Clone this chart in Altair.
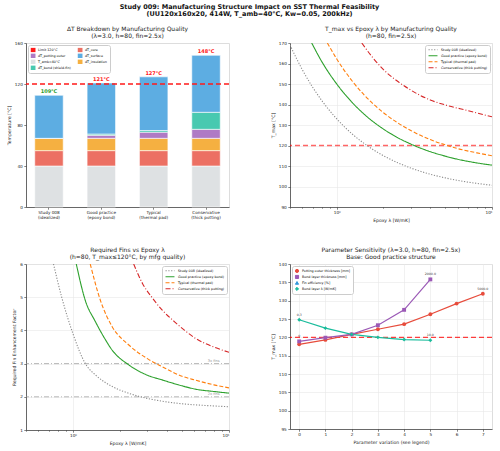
import altair as alt
import pandas as pd

FONT = "DejaVu Sans"

# ---------------- Panel 1: stacked dT breakdown ----------------
categories = ["Study 008|(idealized)", "Good practice|(epoxy bond)",
              "Typical|(thermal pad)", "Conservative|(thick potting)"]
components = ["T_amb=40°C", "dT_core", "dT_insulation", "dT_potting outer",
              "dT_bond (shield-fin)", "dT_surface"]
t_amb = [40, 40, 40, 40]
dt_core = [15, 15, 15, 15]
dt_insulation = [12, 12, 12, 12]
dt_potting = [0, 3, 6, 8.8]
dt_bond = [0, 1.2, 1.6, 16.6]
dt_surface = [42, 49.8, 52.4, 55.6]
comp_colors = ["#dee1e3", "#ec7063", "#f5b041", "#af7ac5", "#48c9b0", "#5dade2"]
limit_value = 120
limit_label = "Limit 120°C"
total_colors = ["#2a9d2a", "#ff1a1a", "#ff1a1a", "#ff1a1a"]

# ---------------- Panel 2: T_max vs lambda ----------------
series_names = ["Study 008 (idealized)", "Good practice (epoxy bond)",
                "Typical (thermal pad)", "Conservative (thick potting)"]
series_colors = ["#8c8c8c", "#2ca02c", "#ff7f0e", "#d62728"]
series_dash = [[1.2, 1.6], [1, 0], [4, 2], [5, 2, 1, 2]]

lam_s008 = [0.5, 0.6, 0.7, 0.8, 1.0, 1.25, 1.5, 2, 2.5, 3, 4, 5, 6, 8, 10]
tmax_s008 = [169, 157, 148.4, 142, 133, 125.8, 121, 115, 111.4, 109, 106, 104.2, 103, 101.5, 100.6]
lam_good = [0.69, 0.8, 1, 1.25, 1.5, 2, 2.5, 3, 4, 5, 6, 8, 10]
tmax_good = [170, 161, 150, 141.2, 135.3, 128, 123.6, 120.7, 117, 114.8, 113.3, 111.5, 110.4]
lam_typ = [0.87, 1, 1.25, 1.5, 2, 2.5, 3, 4, 5, 6, 8, 10]
tmax_typ = [170, 162.2, 151.7, 144.7, 136, 130.8, 127.3, 122.9, 120.3, 118.5, 116.4, 115.0]
lam_cons = [1.45, 1.7, 2, 2.5, 3, 4, 5, 7, 10]
tmax_cons = [170, 163, 157, 151, 147, 142.2, 139.8, 137, 134]

# ---------------- Panel 3: required fins vs lambda ----------------
flam_s008 = [0.75, 0.85, 1.0, 1.2, 1.4, 1.8, 2.3, 3.0, 3.7, 5, 7, 10]
fin_s008 = [6, 4.97, 3.9, 3.0, 2.65, 2.3, 2.1, 1.95, 1.87, 1.79, 1.74, 1.70]
flam_good = [1.05, 1.2, 1.39, 1.6, 1.78, 2.28, 3.0, 3.72, 5, 6.1, 8, 10]
fin_good = [6, 4.9, 4.27, 3.75, 3.41, 2.96, 2.65, 2.51, 2.33, 2.23, 2.16, 2.11]
flam_typ = [1.29, 1.5, 1.78, 2.28, 3, 3.72, 5, 6.1, 8, 10]
fin_typ = [6, 4.9, 4.12, 3.56, 3.15, 2.91, 2.62, 2.5, 2.36, 2.27]
flam_cons = [2.45, 2.8, 3.2, 3.72, 4.5, 5.2, 6.1, 8, 10]
fin_cons = [6, 5.4, 5.0, 4.62, 4.25, 4.0, 3.76, 3.5, 3.34]
fin_refs = [2, 3]
fin_ref_labels = ["2x fins", "3x fins"]
fin_ref_label_x = [7.3, 7.3]

# ---------------- Panel 4: sensitivity ----------------
sens_names = ["Potting outer thickness [mm]", "Bond layer thickness [mm]",
              "Fin efficiency [%]", "Bond layer λ [W/mK]"]
sens_colors = ["#e74c3c", "#9b59b6", "#3498db", "#1abc9c"]
sens_shapes = ["circle", "square", "triangle-up", "diamond"]
sens_potting = [118.1, 119.3, 120.8, 122.2, 123.6, 126.3, 129.2, 131.9]
sens_bond_t = [118.9, 119.9, 120.8, 123.3, 127.5, 135.8]
sens_bond_k = [124.8, 122.5, 120.8, 120.0, 119.4, 119.2]
annot_series = ["Bond layer thickness [mm]", "Bond layer thickness [mm]",
                "Potting outer thickness [mm]", "Bond layer λ [W/mK]", "Bond layer λ [W/mK]"]
annot_idx = [0, 5, 7, 0, 5]
annot_text = ["0", "2000.0", "5000.0", "0.3", "10.0"]

# ---------------- styling helpers ----------------
AX = dict(labelFont=FONT, titleFont=FONT, labelFontSize=4.2, titleFontSize=4.6,
          titleFontWeight="normal", labelColor="#222", titleColor="#222",
          domainColor="#333", domainWidth=0.7, tickColor="#333", tickSize=2.2,
          tickWidth=0.6, labelPadding=1.5, titlePadding=3, gridColor="#e8e8e8", gridWidth=0.6)
LEG = dict(labelFont=FONT, labelFontSize=3.3, title=None, fillColor="white",
           strokeColor="#cccccc", cornerRadius=2, padding=2.5, offset=2,
           rowPadding=1.0, labelOffset=2.5, labelLimit=200, clipHeight=4.5)


def sub_title(lines):
    return alt.TitleParams(lines, font=FONT, fontSize=6.0, fontWeight="normal",
                           color="#222222", offset=2, lineHeight=6.8)


# ---------------- Panel 1 chart ----------------
rows = []
vals = [t_amb, dt_core, dt_insulation, dt_potting, dt_bond, dt_surface]
for ci, cat in enumerate(categories):
    for k, comp in enumerate(components):
        rows.append({"cat": cat, "comp": comp, "val": vals[k][ci], "ord": k})
df_bars = pd.DataFrame(rows)
totals = df_bars.groupby("cat", sort=False)["val"].sum().reindex(categories)
df_tot = pd.DataFrame({"cat": categories, "val": totals.values,
                       "label": [f"{round(v):d}°C" for v in totals.values],
                       "col": total_colors})

leg_domain = [limit_label, "dT_potting outer", "T_amb=40°C", "dT_bond (shield-fin)",
              "dT_core", "dT_surface", "dT_insulation"]
cmap = dict(zip(components, comp_colors))
cmap[limit_label] = "#ff1a1a"
leg_range = [cmap[d] for d in leg_domain]

xcat = alt.X("cat:N", sort=categories,
             scale=alt.Scale(paddingInner=0.456, paddingOuter=0.167),
             axis=alt.Axis(title=None, labelAngle=0, labelExpr="split(datum.label, '|')",
                           labelLineHeight=4.6, labelBaseline="top", **AX))
y1 = alt.Y("val:Q", stack="zero", scale=alt.Scale(domain=[0, 160]),
           axis=alt.Axis(title="Temperature [°C]", values=list(range(0, 161, 20)), format="d",
                         grid=False, **AX))
color1 = alt.Color("comp:N", scale=alt.Scale(domain=leg_domain, range=leg_range),
                   legend=alt.Legend(orient="top-left", columns=2, symbolType="square",
                                     symbolSize=12, columnPadding=6, **LEG))

bars = alt.Chart(df_bars).mark_bar(stroke="white", strokeWidth=0.6).encode(
    x=xcat, y=y1, color=color1, order=alt.Order("ord:Q"),
)
limit = alt.Chart(pd.DataFrame({"val": [limit_value], "comp": [limit_label]})).mark_rule(
    strokeDash=[5, 3], strokeWidth=1.5).encode(
    y=alt.Y("val:Q", scale=alt.Scale(domain=[0, 160])), color=color1)
tot_text = alt.Chart(df_tot).mark_text(font=FONT, fontSize=5, fontWeight="bold", dy=-4).encode(
    x=alt.X("cat:N", sort=categories), y=alt.Y("val:Q", scale=alt.Scale(domain=[0, 160])),
    text="label:N", color=alt.Color("col:N", scale=None))
p1 = alt.layer(bars, limit, tot_text).properties(
    width=203, height=164,
    title=sub_title(["ΔT Breakdown by Manufacturing Quality", "(λ=3.0, h=80, fin=2.5x)"]))

# ---------------- Panel 2 chart ----------------
def series_df(lams, vals_, name):
    return pd.DataFrame({"lam": lams, "v": vals_, "series": name})


df2 = pd.concat([series_df(lam_s008, tmax_s008, series_names[0]),
                 series_df(lam_good, tmax_good, series_names[1]),
                 series_df(lam_typ, tmax_typ, series_names[2]),
                 series_df(lam_cons, tmax_cons, series_names[3])])

log_ticks = [0.5, 0.6, 0.7, 0.8, 0.9, 1, 2, 3, 4, 5, 6, 7, 8, 9, 10]


def log_x(title):
    return alt.X("lam:Q", scale=alt.Scale(type="log", domain=[0.5, 10], nice=False),
                 axis=alt.Axis(title=title, values=log_ticks,
                               labelExpr="datum.value == 1 ? '10⁰' : datum.value == 10 ? '10¹' : ''",
                               tickSize={"expr": "datum.value == 1 || datum.value == 10 ? 2.2 : 1.2"},
                               gridOpacity={"expr": "datum.value == 1 || datum.value == 10 ? 1 : 0"},
                               **{k: v for k, v in AX.items() if k != "tickSize"}))


line_color = alt.Color("series:N", scale=alt.Scale(domain=series_names, range=series_colors),
                       legend=alt.Legend(orient="top-right", symbolType="stroke",
                                         symbolSize=80, symbolStrokeWidth=1.1, **LEG))
line_dash = alt.StrokeDash("series:N", scale=alt.Scale(domain=series_names, range=series_dash),
                           legend=alt.Legend(orient="top-right", symbolType="stroke",
                                             symbolSize=80, symbolStrokeWidth=1.1, **LEG))

x2 = log_x("Epoxy λ [W/mK]")
y2 = alt.Y("v:Q", scale=alt.Scale(domain=[90, 170], nice=False),
           axis=alt.Axis(title="T_max [°C]", values=list(range(90, 171, 10)), format="d", **AX))
lines2 = alt.Chart(df2).mark_line(strokeWidth=1.1, interpolate="monotone", clip=True).encode(
    x=x2, y=y2, color=line_color, strokeDash=line_dash)
ref2 = alt.Chart(pd.DataFrame({"v": [limit_value]})).mark_rule(
    color="#ff0000", opacity=0.6, strokeDash=[5, 3], strokeWidth=1.3).encode(y=y2)
p2 = alt.layer(ref2, lines2).properties(
    width=202, height=164,
    title=sub_title(["T_max vs Epoxy λ by Manufacturing Quality", "(h=80, fin=2.5x)"]))

# ---------------- Panel 3 chart ----------------
df3 = pd.concat([series_df(flam_s008, fin_s008, series_names[0]),
                 series_df(flam_good, fin_good, series_names[1]),
                 series_df(flam_typ, fin_typ, series_names[2]),
                 series_df(flam_cons, fin_cons, series_names[3])])
x3 = log_x("Epoxy λ [W/mK]")
y3 = alt.Y("v:Q", scale=alt.Scale(domain=[1, 6], nice=False),
           axis=alt.Axis(title="Required Fin Enhancement Factor", values=[1, 2, 3, 4, 5, 6],
                         format="d", **AX))
lines3 = alt.Chart(df3).mark_line(strokeWidth=1.1, interpolate="monotone", clip=True).encode(
    x=x3, y=y3, color=line_color, strokeDash=line_dash)
df_ref3 = pd.DataFrame({"v": fin_refs, "label": fin_ref_labels, "lam": fin_ref_label_x})
ref3 = alt.Chart(df_ref3).mark_rule(color="#999999", opacity=0.7, strokeDash=[5, 2, 1, 2],
                                    strokeWidth=1).encode(y=y3)
ref3_txt = alt.Chart(df_ref3).mark_text(font=FONT, fontSize=3.6, color="#999999", align="left",
                                        baseline="bottom", dy=-0.5).encode(
    x=x3, y=y3, text="label:N")
p3 = alt.layer(ref3, ref3_txt, lines3).properties(
    width=203, height=166,
    title=sub_title(["Required Fins vs Epoxy λ", "(h=80, T_max≤120°C, by mfg quality)"]))

# ---------------- Panel 4 chart ----------------
df4 = pd.concat([
    pd.DataFrame({"idx": list(range(len(sens_potting))), "t": sens_potting, "param": sens_names[0]}),
    pd.DataFrame({"idx": list(range(len(sens_bond_t))), "t": sens_bond_t, "param": sens_names[1]}),
    pd.DataFrame({"idx": list(range(len(sens_bond_k))), "t": sens_bond_k, "param": sens_names[3]}),
])
annot_vals = []
for s, i in zip(annot_series, annot_idx):
    row = df4[(df4["param"] == s) & (df4["idx"] == i)]
    annot_vals.append(float(row["t"].iloc[0]))
df_annot = pd.DataFrame({"idx": annot_idx, "t": annot_vals, "text": annot_text})

LEG4 = dict(LEG)
LEG4["clipHeight"] = 4.8
color4 = alt.Color("param:N", scale=alt.Scale(domain=sens_names, range=sens_colors),
                   legend=alt.Legend(orient="top-left", symbolSize=10, symbolStrokeWidth=1.0, **LEG4))
shape4 = alt.Shape("param:N", scale=alt.Scale(domain=sens_names, range=sens_shapes),
                   legend=alt.Legend(orient="top-left", symbolSize=10, symbolStrokeWidth=1.0, **LEG4))
xs = alt.X("idx:Q", scale=alt.Scale(domain=[-0.35, 7.35], nice=False, zero=False),
           axis=alt.Axis(title="Parameter variation (see legend)", values=list(range(8)),
                         format="d", labelOverlap=False, **AX))
ys = alt.Y("t:Q", scale=alt.Scale(domain=[95, 140], nice=False, zero=False),
           axis=alt.Axis(title="T_max [°C]", values=list(range(95, 141, 5)), format="d",
                         labelOverlap=False, **AX))
ref4 = alt.Chart(pd.DataFrame({"t": [limit_value]})).mark_rule(
    color="#ff0000", opacity=0.75, strokeDash=[5, 3], strokeWidth=1.2).encode(y=ys)
lines4 = alt.Chart(df4).mark_line(strokeWidth=1.2).encode(
    x=xs, y=ys, color=color4, detail="param:N", order="idx:Q")
pts4 = alt.Chart(df4).mark_point(filled=True, size=15, opacity=1).encode(
    x=xs, y=ys, color=color4, shape=shape4)
ann4 = alt.Chart(df_annot).mark_text(font=FONT, fontSize=3.2, color="#444", dy=-5).encode(
    x=xs, y=ys, text="text:N")
p4 = alt.layer(ref4, lines4, pts4, ann4).properties(
    width=202, height=165,
    title=sub_title(["Parameter Sensitivity (λ=3.0, h=80, fin=2.5x)", "Base: Good practice structure"]))

res = dict(color="independent", strokeDash="independent", shape="independent",
           x="independent", y="independent")
chart = alt.concat(p1, p2, p3, p4, columns=2, spacing={"row": 57, "column": 61},
                   bounds="flush").resolve_scale(**res).properties(
    title=alt.TitleParams(["Study 009: Manufacturing Structure Impact on SST Thermal Feasibility",
                           "(UU120x160x20, 414W, T_amb=40°C, Kw=0.05, 200kHz)"],
                          font=FONT, fontSize=6.5, fontWeight="bold", anchor="middle",
                          color="#111111", lineHeight=7.4, offset=8),
    padding={"left": 5, "top": 3, "right": 5, "bottom": 5},
).configure_view(stroke="#333", strokeWidth=0.7).configure(background="white")

chart.save("out.html", embed_options={"renderer": "svg", "actions": False})
